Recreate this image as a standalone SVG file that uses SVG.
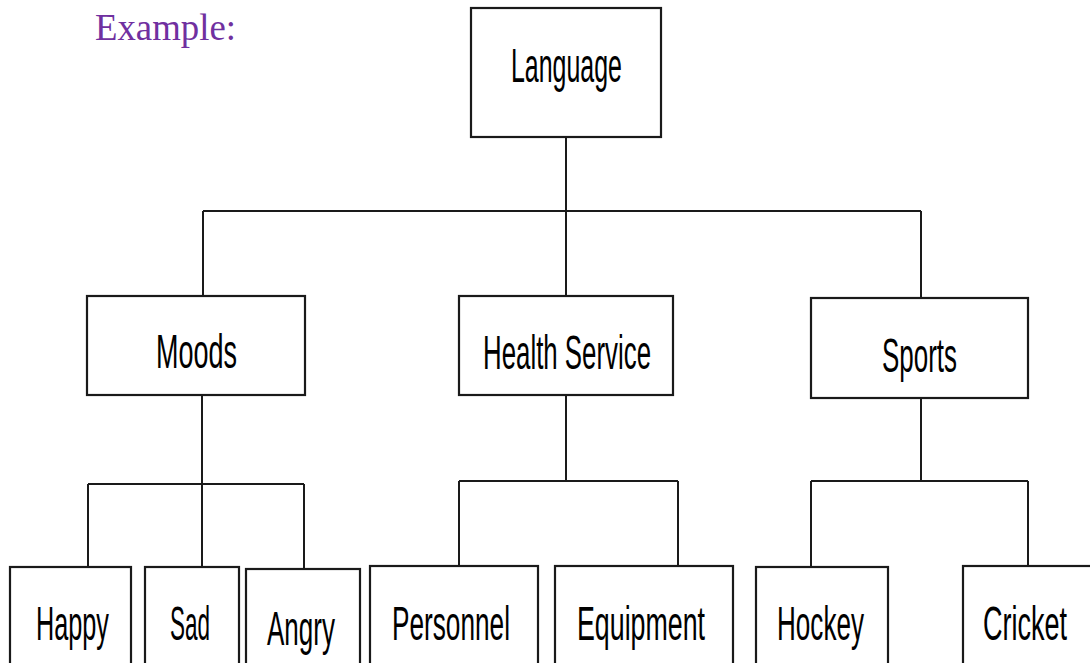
<svg xmlns="http://www.w3.org/2000/svg" width="1090" height="663" viewBox="0 0 1090 663">
<style>
.box{fill:#fff;stroke:#1a1a1a;stroke-width:2.2}
.lbl{font-family:"Liberation Sans",Arial,sans-serif;font-size:48px;fill:#000}
.con{fill:none;stroke:#1a1a1a;stroke-width:2}
</style>
<rect width="1090" height="663" fill="#fff"/>
<text x="95" y="40" font-family="Liberation Serif,'Times New Roman',serif" font-size="37" fill="#7030A0" textLength="141" lengthAdjust="spacingAndGlyphs">Example:</text>
<g id="connectors">
<path class="con" d="M566 137V211M203 211H921M203 211V296M566 211V296M921 211V298"/>
<path class="con" d="M202 395V484M88 484H304M88 484V567M202 484V567M304 484V569"/>
<path class="con" d="M566 395V481M459 481H678M459 481V566M678 481V566"/>
<path class="con" d="M921 398V481M811 481H1028M811 481V567M1028 481V566"/>
</g>
<g id="n-language"><rect class="box" x="471" y="8" width="190" height="129"/><text class="lbl" transform="scale(0.6,1)" x="851.67" y="82" textLength="185" lengthAdjust="spacingAndGlyphs">Language</text></g>
<g id="n-moods"><rect class="box" x="87" y="296" width="218" height="99"/><text class="lbl" transform="scale(0.6,1)" x="260" y="368" textLength="135" lengthAdjust="spacingAndGlyphs">Moods</text></g>
<g id="n-health"><rect class="box" x="459" y="296" width="214" height="99"/><text class="lbl" transform="scale(0.6,1)" x="805" y="369" textLength="280" lengthAdjust="spacingAndGlyphs">Health Service</text></g>
<g id="n-sports"><rect class="box" x="811" y="298" width="217" height="100"/><text class="lbl" transform="scale(0.6,1)" x="1470" y="372" textLength="125" lengthAdjust="spacingAndGlyphs">Sports</text></g>
<g id="n-happy"><rect class="box" x="10" y="567" width="121" height="120"/><text class="lbl" transform="scale(0.6,1)" x="60" y="640" textLength="121.67" lengthAdjust="spacingAndGlyphs">Happy</text></g>
<g id="n-sad"><rect class="box" x="145" y="567" width="94" height="120"/><text class="lbl" transform="scale(0.6,1)" x="283.33" y="640" textLength="66.67" lengthAdjust="spacingAndGlyphs">Sad</text></g>
<g id="n-angry"><rect class="box" x="246" y="569" width="114" height="120"/><text class="lbl" transform="scale(0.6,1)" x="445" y="645" textLength="113.33" lengthAdjust="spacingAndGlyphs">Angry</text></g>
<g id="n-personnel"><rect class="box" x="370" y="566" width="168" height="120"/><text class="lbl" transform="scale(0.6,1)" x="653.33" y="640" textLength="196.67" lengthAdjust="spacingAndGlyphs">Personnel</text></g>
<g id="n-equipment"><rect class="box" x="555" y="566" width="178" height="120"/><text class="lbl" transform="scale(0.6,1)" x="961.67" y="640" textLength="213.33" lengthAdjust="spacingAndGlyphs">Equipment</text></g>
<g id="n-hockey"><rect class="box" x="756" y="567" width="132" height="120"/><text class="lbl" transform="scale(0.6,1)" x="1295" y="640" textLength="145" lengthAdjust="spacingAndGlyphs">Hockey</text></g>
<g id="n-cricket"><rect class="box" x="963" y="566" width="140" height="120"/><text class="lbl" transform="scale(0.6,1)" x="1638.33" y="640" textLength="140" lengthAdjust="spacingAndGlyphs">Cricket</text></g>
</svg>
